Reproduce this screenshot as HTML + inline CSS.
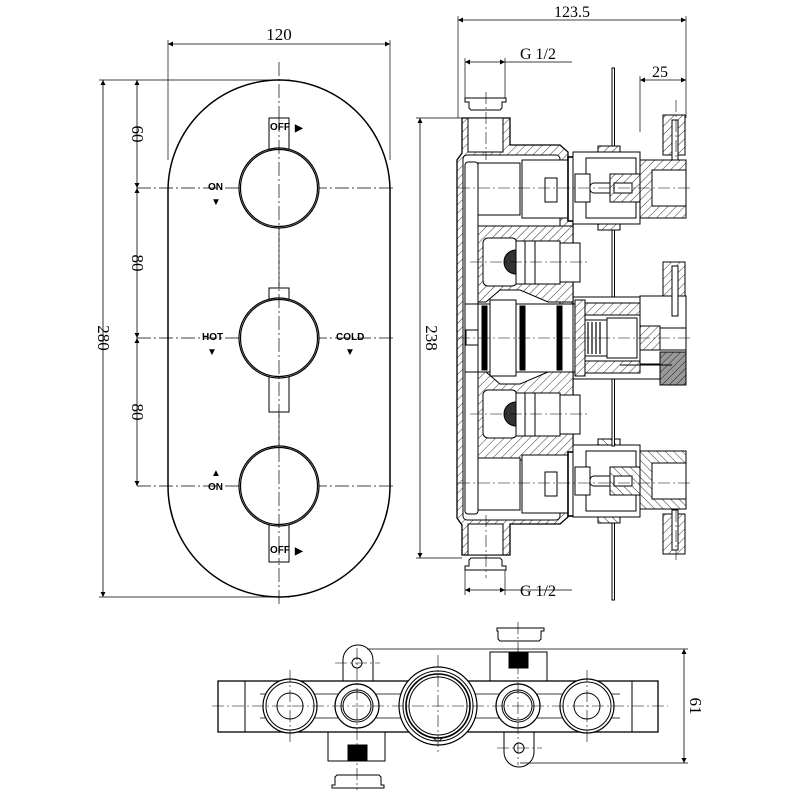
<!DOCTYPE html>
<html><head><meta charset="utf-8"><style>
html,body{margin:0;padding:0;background:#fff}
svg{display:block}
text{font-family:"Liberation Serif",serif;fill:#000}
.s{font-family:"Liberation Sans",sans-serif;font-weight:bold;font-size:10px}
</style></head><body>
<svg width="800" height="800" viewBox="0 0 800 800" xmlns="http://www.w3.org/2000/svg">
<defs>
<pattern id="h" patternUnits="userSpaceOnUse" width="6" height="6" patternTransform="rotate(45)">
<rect width="6" height="6" fill="#fff"/><line x1="0" y1="0" x2="0" y2="6" stroke="#000" stroke-width="0.8"/></pattern>
<pattern id="hg" patternUnits="userSpaceOnUse" width="5" height="5" patternTransform="rotate(45)">
<rect width="5" height="5" fill="#999"/><line x1="0" y1="0" x2="0" y2="5" stroke="#000" stroke-width="0.8"/></pattern>
<marker id="a" viewBox="0 0 10 10" refX="10" refY="5" markerWidth="9" markerHeight="5" orient="auto-start-reverse" markerUnits="userSpaceOnUse"><path d="M0,0 L10,5 L0,10 z" fill="#000"/></marker>
</defs>
<g fill="none" stroke="#000" stroke-width="1">
<!-- ===== FRONT VIEW ===== -->
<rect x="168" y="80" width="222" height="517" rx="111" ry="111" stroke-width="1.5"/>
<g stroke-width="0.7" stroke-dasharray="14 3 2 3">
<line x1="279" y1="62" x2="279" y2="605"/>
<line x1="137" y1="188" x2="396" y2="188"/>
<line x1="137" y1="338" x2="396" y2="338"/>
<line x1="137" y1="486" x2="396" y2="486"/>
</g>
<!-- knobs -->
<rect x="269" y="118" width="20" height="34" fill="#fff"/>
<rect x="269" y="288" width="20" height="13" fill="#fff"/>
<rect x="269" y="375" width="20" height="37" fill="#fff"/>
<rect x="269" y="523" width="20" height="39" fill="#fff"/>
<g stroke-width="1.2">
<circle cx="279" cy="188" r="40" fill="#fff"/><circle cx="279" cy="188" r="38.5"/>
<circle cx="279" cy="338" r="40" fill="#fff"/><circle cx="279" cy="338" r="38.5"/>
<circle cx="279" cy="486" r="40" fill="#fff"/><circle cx="279" cy="486" r="38.5"/>
</g>
<line x1="279" y1="118" x2="279" y2="562" stroke-width="0.7" stroke-dasharray="14 3 2 3"/>
<!-- dims front -->
<line x1="168" y1="44" x2="390" y2="44" marker-start="url(#a)" marker-end="url(#a)" stroke-width="0.8"/>
<line x1="168" y1="40" x2="168" y2="160" stroke-width="0.7"/>
<line x1="390" y1="40" x2="390" y2="160" stroke-width="0.7"/>
<line x1="103" y1="80" x2="103" y2="597" marker-start="url(#a)" marker-end="url(#a)" stroke-width="0.8"/>
<line x1="99" y1="80" x2="290" y2="80" stroke-width="0.7"/>
<line x1="99" y1="597" x2="290" y2="597" stroke-width="0.7"/>
<line x1="137" y1="80" x2="137" y2="188" marker-start="url(#a)" marker-end="url(#a)" stroke-width="0.8"/>
<line x1="137" y1="188" x2="137" y2="338" marker-start="url(#a)" marker-end="url(#a)" stroke-width="0.8"/>
<line x1="137" y1="338" x2="137" y2="486" marker-start="url(#a)" marker-end="url(#a)" stroke-width="0.8"/>

<!-- ===== SIDE VIEW ===== -->
<path d="M462,118 H510 V145 H560 L568,152 V165 H573 V505 H568 V517 L560,524 H510 V555 H462 V525 L457,518 V160 L462,153 Z" fill="url(#h)" stroke-width="1.3"/>
<path d="M468,118 H503 V152 H468 Z" fill="#fff"/>
<path d="M468,524 H503 V555 H468 Z" fill="#fff"/>
<rect x="463" y="155" width="97" height="365" rx="4" fill="#fff"/>
<rect x="465" y="162" width="13" height="352" rx="3" fill="#fff"/>
<line x1="465" y1="304" x2="478" y2="304"/><line x1="465" y1="372" x2="478" y2="372"/>
<path d="M478,226 H573 V302 H548 L520,290 H500 L486,302 H478 Z" fill="url(#h)"/>
<path d="M478,372 H486 L500,384 H520 L548,372 H573 V460 H478 Z" fill="url(#h)"/>
<rect x="478" y="163" width="42" height="52" fill="#fff"/>
<rect x="522" y="160" width="46" height="58" fill="#fff"/>
<rect x="545" y="178" width="12" height="24" fill="#fff"/>
<rect x="568" y="157" width="8" height="64" fill="#fff" stroke-width="1.6"/>
<rect x="576" y="162" width="8" height="54" fill="#fff"/>
<rect x="478" y="458" width="42" height="52" fill="#fff"/>
<rect x="522" y="455" width="46" height="58" fill="#fff"/>
<rect x="545" y="472" width="12" height="24" fill="#fff"/>
<rect x="568" y="452" width="8" height="64" fill="#fff" stroke-width="1.6"/>
<rect x="576" y="457" width="8" height="54" fill="#fff"/>
<rect x="483" y="238" width="34" height="48" rx="5" fill="#fff"/>
<path d="M516,250 A12,12 0 0 0 516,274 Z" fill="#333"/>
<rect x="516" y="241" width="44" height="43" fill="#fff"/>
<line x1="535" y1="241" x2="535" y2="284"/><line x1="525" y1="241" x2="525" y2="284"/>
<rect x="560" y="243" width="20" height="39" fill="#fff"/>
<rect x="483" y="390" width="34" height="48" rx="5" fill="#fff"/>
<path d="M516,402 A12,12 0 0 0 516,426 Z" fill="#333"/>
<rect x="516" y="393" width="44" height="43" fill="#fff"/>
<line x1="535" y1="393" x2="535" y2="436"/><line x1="525" y1="393" x2="525" y2="436"/>
<rect x="560" y="395" width="20" height="39" fill="#fff"/>
<rect x="466" y="330" width="12" height="15" fill="#fff"/>
<rect x="478" y="304" width="97" height="68" fill="#fff"/>
<rect x="482" y="306" width="5" height="64" fill="#000"/>
<rect x="520" y="306" width="5" height="64" fill="#000"/>
<rect x="557" y="306" width="5" height="64" fill="#000"/>
<rect x="490" y="300" width="26" height="76" fill="#fff"/>
<rect x="575" y="300" width="10" height="76" fill="url(#h)"/>
<rect x="585" y="320" width="22" height="36" fill="#fff"/>
<g stroke-width="1.2"><line x1="588" y1="322" x2="588" y2="354"/><line x1="592" y1="322" x2="592" y2="354"/><line x1="596" y1="322" x2="596" y2="354"/><line x1="600" y1="322" x2="600" y2="354"/></g>
<rect x="607" y="318" width="30" height="40" fill="#fff"/>
<rect x="585" y="303" width="55" height="12" fill="url(#h)"/>
<rect x="585" y="361" width="55" height="12" fill="url(#h)"/>
<rect x="573" y="297" width="95" height="82" fill="none"/>
<rect x="640" y="296" width="46" height="68" fill="#fff"/>
<rect x="640" y="326" width="20" height="24" fill="url(#h)"/>
<rect x="660" y="328" width="26" height="22" fill="#fff"/>
<rect x="663" y="262" width="22" height="34" fill="url(#h)"/>
<rect x="672" y="266" width="6" height="50" fill="#fff"/>
<rect x="660" y="352" width="26" height="33" fill="url(#hg)"/>
<line x1="620" y1="365" x2="672" y2="365"/>
<g id="hd">
<rect x="573" y="152" width="67" height="72" fill="#fff"/>
<rect x="586" y="158" width="50" height="60" fill="#fff"/>
<rect x="575" y="174" width="15" height="28" fill="#fff"/>
<rect x="590" y="183" width="33" height="10" rx="4" fill="#fff"/>
<rect x="610" y="174" width="30" height="28" fill="url(#h)"/>
<rect x="614" y="183" width="18" height="10" fill="#fff"/>
<rect x="640" y="160" width="46" height="58" fill="url(#h)"/>
<rect x="652" y="170" width="34" height="36" fill="#fff"/>
<rect x="598" y="146" width="22" height="6" fill="url(#h)"/>
<rect x="598" y="224" width="22" height="6" fill="url(#h)"/>
</g>
<rect x="663" y="115" width="22" height="40" fill="url(#h)"/>
<rect x="672" y="120" width="6" height="40" fill="#fff"/>
<use href="#hd" transform="translate(0,669) scale(1,-1)"/>
<rect x="663" y="514" width="22" height="40" fill="url(#h)"/>
<rect x="672" y="510" width="6" height="40" fill="#fff"/>
<rect x="612" y="68" width="2.5" height="78" fill="#fff"/>
<rect x="612" y="230" width="2.5" height="67" fill="#fff"/>
<rect x="612" y="379" width="2.5" height="67" fill="#fff"/>
<rect x="612" y="523" width="2.5" height="77" fill="#fff"/>
<path d="M465,98 H506 V102 L502,102 V108 L500,110 H471 L469,108 V102 H465 Z" fill="#fff"/>
<path d="M465,570 H506 V566 L502,566 V560 L500,558 H471 L469,560 V566 H465 Z" fill="#fff"/>
<g stroke-width="0.6" stroke-dasharray="12 3 2 3">
<line x1="486" y1="92" x2="486" y2="160"/><line x1="486" y1="515" x2="486" y2="578"/>
<line x1="458" y1="188" x2="690" y2="188"/><line x1="470" y1="262" x2="590" y2="262"/>
<line x1="458" y1="338" x2="690" y2="338"/><line x1="470" y1="414" x2="590" y2="414"/>
<line x1="458" y1="483" x2="690" y2="483"/>
<line x1="676" y1="100" x2="676" y2="160"/><line x1="676" y1="510" x2="676" y2="560"/>
</g>
<line x1="458" y1="20" x2="686" y2="20" marker-start="url(#a)" marker-end="url(#a)" stroke-width="0.8"/>
<line x1="458" y1="16" x2="458" y2="118" stroke-width="0.7"/>
<line x1="686" y1="16" x2="686" y2="118" stroke-width="0.7"/>
<line x1="465" y1="62" x2="505" y2="62" marker-start="url(#a)" marker-end="url(#a)" stroke-width="0.8"/>
<line x1="505" y1="62" x2="572" y2="62" stroke-width="0.7"/>
<line x1="465" y1="58" x2="465" y2="98" stroke-width="0.7"/><line x1="505" y1="58" x2="505" y2="98" stroke-width="0.7"/>
<line x1="465" y1="590" x2="505" y2="590" marker-start="url(#a)" marker-end="url(#a)" stroke-width="0.8"/>
<line x1="505" y1="590" x2="572" y2="590" stroke-width="0.7"/>
<line x1="465" y1="570" x2="465" y2="595" stroke-width="0.7"/><line x1="505" y1="570" x2="505" y2="595" stroke-width="0.7"/>
<line x1="640" y1="80" x2="686" y2="80" marker-start="url(#a)" marker-end="url(#a)" stroke-width="0.8"/>
<line x1="640" y1="76" x2="640" y2="132" stroke-width="0.7"/>
<line x1="420" y1="118" x2="420" y2="558" marker-start="url(#a)" marker-end="url(#a)" stroke-width="0.8"/>
<line x1="416" y1="118" x2="462" y2="118" stroke-width="0.7"/>
<line x1="416" y1="558" x2="462" y2="558" stroke-width="0.7"/>

<!-- ===== BOTTOM VIEW ===== -->
<path d="M343,681 V660 A14,14 0 0 1 373,660 V681" fill="#fff"/>
<circle cx="357" cy="663" r="5"/>
<path d="M504,732 V752 A14,14 0 0 0 534,752 V732" fill="#fff"/>
<circle cx="519" cy="748" r="5"/>
<rect x="490" y="652" width="57" height="46" fill="#fff"/>
<rect x="509" y="653" width="19" height="15" fill="#000"/>
<rect x="328" y="715" width="57" height="46" fill="#fff"/>
<rect x="348" y="745" width="19" height="15" fill="#000"/>
<rect x="218" y="681" width="440" height="51" fill="#fff" stroke-width="1.3"/>
<line x1="245" y1="681" x2="245" y2="732"/><line x1="632" y1="681" x2="632" y2="732"/>
<line x1="260" y1="694" x2="620" y2="694" stroke-width="0.8"/><line x1="260" y1="718" x2="620" y2="718" stroke-width="0.8"/>
<g fill="#fff">
<circle cx="290" cy="706" r="27" stroke-width="1.2"/><circle cx="290" cy="706" r="24"/><circle cx="290" cy="706" r="13"/>
<circle cx="587" cy="706" r="27" stroke-width="1.2"/><circle cx="587" cy="706" r="24"/><circle cx="587" cy="706" r="13"/>
<circle cx="357" cy="706" r="22" stroke-width="1.2"/><circle cx="357" cy="706" r="16"/><circle cx="357" cy="706" r="14"/>
<circle cx="518" cy="706" r="22" stroke-width="1.2"/><circle cx="518" cy="706" r="16"/><circle cx="518" cy="706" r="14"/>
<circle cx="438" cy="706" r="39" stroke-width="1.2"/><circle cx="438" cy="706" r="35"/><circle cx="438" cy="706" r="32" stroke-width="1.6"/><circle cx="438" cy="706" r="29"/>
</g>
<path d="M434,737 A4,4 0 0 0 442,737" />
<path d="M497,628 H544 V631 H541 V639 L539,641 H500 L498,639 V631 H497 Z" fill="#fff"/>
<path d="M332,788 H384 V785 H381 V777 L379,775 H337 L335,777 V785 H332 Z" fill="#fff"/>
<g stroke-width="0.6" stroke-dasharray="12 3 2 3">
<line x1="212" y1="706" x2="668" y2="706"/>
<line x1="290" y1="670" x2="290" y2="745"/><line x1="587" y1="670" x2="587" y2="745"/>
<line x1="357" y1="648" x2="357" y2="790"/><line x1="518" y1="622" x2="518" y2="765"/>
<line x1="438" y1="655" x2="438" y2="755"/>
<line x1="335" y1="663" x2="380" y2="663"/><line x1="497" y1="748" x2="542" y2="748"/>
</g>
<line x1="684" y1="649" x2="684" y2="763" marker-start="url(#a)" marker-end="url(#a)" stroke-width="0.8"/>
<line x1="367" y1="649" x2="688" y2="649" stroke-width="0.7"/>
<line x1="520" y1="763" x2="688" y2="763" stroke-width="0.7"/>
</g>
<!-- texts -->
<text x="279" y="44" font-size="17" text-anchor="middle" dy="-4">120</text>
<text font-size="17" text-anchor="middle" transform="translate(98,338) rotate(90)">280</text>
<text font-size="17" text-anchor="middle" transform="translate(132,134) rotate(90)">60</text>
<text font-size="17" text-anchor="middle" transform="translate(132,263) rotate(90)">80</text>
<text font-size="17" text-anchor="middle" transform="translate(132,412) rotate(90)">80</text>
<text class="s" x="270" y="130">OFF</text><text class="s" x="295" y="131" font-size="8">▶</text>
<text class="s" x="270" y="553">OFF</text><text class="s" x="295" y="554" font-size="8">▶</text>
<text class="s" x="208" y="190">ON</text><text class="s" x="211" y="205" font-size="8">▼</text>
<text class="s" x="208" y="490">ON</text><text class="s" x="211" y="476" font-size="8">▲</text>
<text class="s" x="202" y="340">HOT</text><text class="s" x="207" y="355" font-size="8">▼</text>
<text class="s" x="336" y="340">COLD</text><text class="s" x="345" y="355" font-size="8">▼</text>
<text x="572" y="17" font-size="16" text-anchor="middle">123.5</text>
<text x="520" y="59" font-size="16">G 1/2</text>
<text x="520" y="596" font-size="16">G 1/2</text>
<text x="652" y="77" font-size="16">25</text>
<text font-size="17" text-anchor="middle" transform="translate(426,338) rotate(90)">238</text>
<text font-size="17" text-anchor="middle" transform="translate(690,706) rotate(90)">61</text>
</svg>
</body></html>
